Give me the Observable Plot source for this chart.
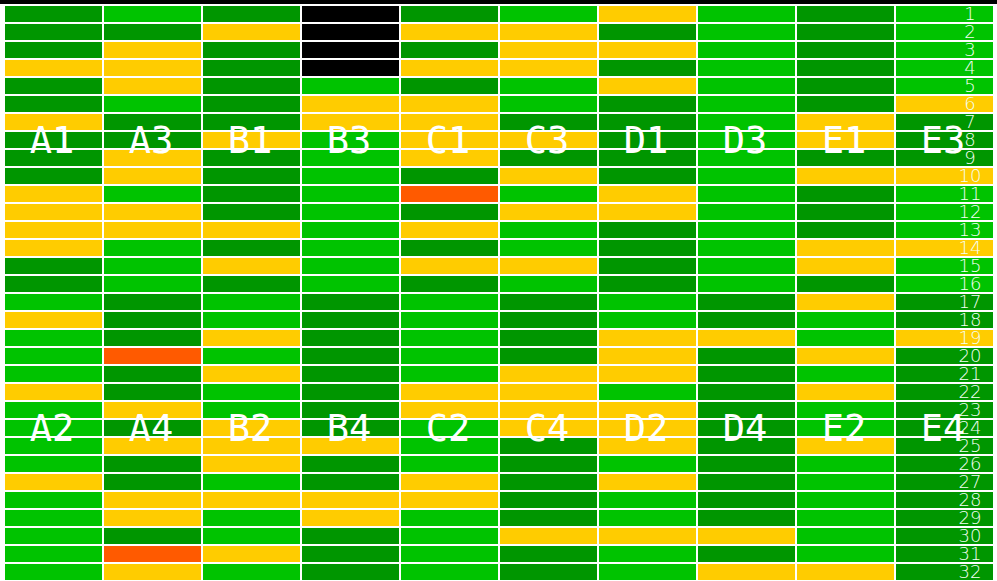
<!DOCTYPE html>
<html>
<head>
<meta charset="utf-8">
<script src="https://cdn.jsdelivr.net/npm/d3@7"></script>
<script src="https://cdn.jsdelivr.net/npm/@observablehq/plot@0.6"></script>
<style>
  html, body { margin: 0; padding: 0; background: #fff; }
  #chart svg { display: block; }
</style>
</head>
<body>
<div id="chart"></div>
<script>
// Column keys (left to right) and their labels in the upper and lower halves
const columns = ["A1/A2", "A3/A4", "B1/B2", "B3/B4", "C1/C2", "C3/C4", "D1/D2", "D3/D4", "E1/E2", "E3/E4"];
const topLabels = ["A1", "A3", "B1", "B3", "C1", "C3", "D1", "D3", "E1", "E3"];
const bottomLabels = ["A2", "A4", "B2", "B4", "C2", "C4", "D2", "D4", "E2", "E4"];

// Row tick labels 1..32
const rowLabels = ["1","2","3","4","5","6","7","8","9","10","11","12","13","14","15","16",
                   "17","18","19","20","21","22","23","24","25","26","27","28","29","30","31","32"];

// State of each cell, rows 1..32 (D = dark green, L = light green, Y = yellow, O = orange, K = black)
const colA1A2 = "DDDYDDYDDDYYYYDD" + "LYLLLYLLLLYLLLLL";
const colA3A4 = "LDYYYLDDYYLYYLLL" + "DDDODDYDYDDYYDOY";
const colB1B2 = "DYDDDDDYDDDDYDYD" + "LLYLYLLYYYLYLLYL";
const colB3B4 = "KKKKLYYLLLLLLLLL" + "DDDDDDDDYDDYYDDD";
const colC1C2 = "DYDYDYYYYDODYDYD" + "LLLLLYYLLLYYLLLL";
const colC3C4 = "LYYYLLDYDYLYLLYL" + "DDDDYYYYDDDDDYDD";
const colD1D2 = "YDYDYDDDDDYYDDDD" + "LLYYYLYYYLYLLYLL";
const colD3D4 = "LLLLLLLLLLLLLLLL" + "DDYDDDDDDDDDDYDY";
const colE1E2 = "DDDDDDYYDYDDDYYD" + "YLLYLYLLYLLLLLLY";
const colE3E4 = "LLLLLYDDDYLLLYLL" + "DDYDDDDDDDDDDDDD";

const columnStates = [colA1A2, colA3A4, colB1B2, colB3B4, colC1C2, colC3C4, colD1D2, colD3D4, colE1E2, colE3E4];

// Colour key
const stateCodes = ["D", "L", "Y", "O", "K"];
const stateColors = ["#009600", "#00c300", "#ffcc00", "#ff5a00", "#000000"];

// Rows on which the half labels sit
const topLabelRow = "8";
const bottomLabelRow = "24";

// Build tables
const cells = [];
columns.forEach((col, i) => {
  columnStates[i].split("").forEach((code, r) => {
    cells.push({col, row: rowLabels[r], code});
  });
});
const halfLabels = [
  ...columns.map((col, i) => ({col, row: topLabelRow, label: topLabels[i]})),
  ...columns.map((col, i) => ({col, row: bottomLabelRow, label: bottomLabels[i]}))
];
const rowTicks = rowLabels.map(r => ({col: columns[columns.length - 1], row: r}));

const chart = Plot.plot({
  width: 997,
  height: 581,
  marginTop: 4,
  marginRight: 0,
  marginBottom: 0,
  marginLeft: 0,
  x: {type: "band", domain: columns, padding: 0, axis: null},
  y: {type: "band", domain: rowLabels, padding: 0, axis: null},
  color: {type: "ordinal", domain: stateCodes, range: stateColors},
  style: {background: "linear-gradient(#000 0 4px, #fff 4px)", overflow: "visible"},
  marks: [
    Plot.cell(cells, {x: "col", y: "row", fill: "code", inset: 1}),
    Plot.text(halfLabels, {
      x: "col", y: "row", text: "label", dx: -2, dy: 1,
      fill: "white", fontSize: 37, fontFamily: "DejaVu Sans Mono"
    }),
    Plot.text(rowTicks, {
      x: "col", y: "row", text: "row", dx: 25,
      fill: "#f4fff4", fontSize: 18, fontFamily: "DejaVu Sans", fontWeight: 300
    })
  ]
});

document.getElementById("chart").appendChild(chart);
</script>
</body>
</html>
